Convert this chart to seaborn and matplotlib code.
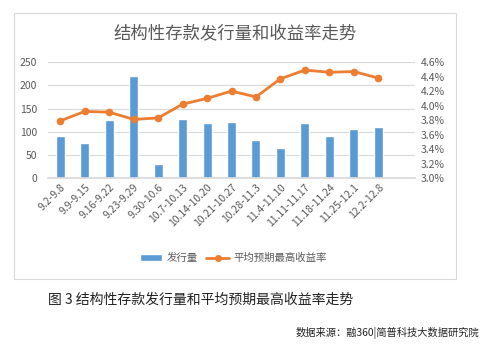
import matplotlib
matplotlib.use("Agg")
import matplotlib.pyplot as plt
import matplotlib.patches as patches
from matplotlib.lines import Line2D
from matplotlib.ticker import FuncFormatter
import seaborn as sns
import pandas as pd

# --- data ---
weeks = ["9.2-9.8", "9.9-9.15", "9.16-9.22", "9.23-9.29", "9.30-10.6",
         "10.7-10.13", "10.14-10.20", "10.21-10.27", "10.28-11.3", "11.4-11.10",
         "11.11-11.17", "11.18-11.24", "11.25-12.1", "12.2-12.8"]
issuance = [91, 76, 125, 220, 30, 127, 119, 122, 82, 66, 119, 91, 106, 111]
avg_rate = [3.79, 3.92, 3.91, 3.81, 3.83, 4.02, 4.10, 4.20, 4.12, 4.37, 4.49, 4.46, 4.47, 4.38]

BAR_C = "#5B9BD5"
LINE_C = "#ED7D31"
TXT_C = "#595959"
GRID_C = "#D9D9D9"

df = pd.DataFrame({"week": weeks, "issuance": issuance, "rate": avg_rate})

sns.set_theme(style="white")
plt.rcParams['font.family'] = ['Noto Sans CJK SC', 'DejaVu Sans']

fig = plt.figure(figsize=(5, 3.57), dpi=100)
fig.patch.set_facecolor("white")

# outer chart frame
fig.patches.append(patches.Rectangle((14 / 500, 1 - 279 / 357), 442 / 500, 266 / 357,
                                     transform=fig.transFigure, fill=False,
                                     edgecolor="#D9D9D9", linewidth=0.8))

ax = fig.add_axes([0.096, 0.501, 0.734, 0.325])
sns.barplot(data=df, x="week", y="issuance", color=BAR_C, width=0.37,
            saturation=1, ax=ax)
ax.set_ylim(0, 250)
ax.set_yticks(range(0, 251, 50))
ax.set_xlim(-0.5, 14.5)
ax.yaxis.grid(True, color=GRID_C, linewidth=0.8)
ax.set_axisbelow(True)
for s in ["top", "right", "left"]:
    ax.spines[s].set_visible(False)
ax.spines["bottom"].set_color(GRID_C)
ax.set_xlabel("")
ax.set_ylabel("")
ax.tick_params(axis="y", labelsize=7.5, colors=TXT_C, length=0, pad=8)
ax.tick_params(axis="x", labelsize=7.5, colors=TXT_C, length=0, pad=3)
plt.setp(ax.get_xticklabels(), rotation=45, ha="right", rotation_mode="anchor")

ax2 = ax.twinx()
sns.pointplot(data=df, x="week", y="rate", color=LINE_C, markers="o",
              markersize=4, linewidth=2, ax=ax2)
ax2.set_ylim(3.0, 4.6)
ax2.set_yticks([3.0, 3.2, 3.4, 3.6, 3.8, 4.0, 4.2, 4.4, 4.6])
ax2.yaxis.set_major_formatter(FuncFormatter(lambda v, p: f"{v:.1f}%"))
ax2.set_xlim(-0.5, 14.5)
ax2.set_ylabel("")
ax2.set_xlabel("")
for s in ax2.spines.values():
    s.set_visible(False)
ax2.tick_params(axis="y", labelsize=7.5, colors=TXT_C, length=0, pad=4)

fig.text(0.47, 1 - 33 / 357, "结构性存款发行量和收益率走势", ha="center", va="center",
         fontsize=12.5, color=TXT_C)

handles = [patches.Patch(facecolor=BAR_C, label="发行量"),
           Line2D([0], [0], color=LINE_C, lw=2, marker="o", markersize=4,
                  label="平均预期最高收益率")]
fig.legend(handles=handles, loc="center", bbox_to_anchor=(0.466, 1 - 258 / 357),
           ncol=2, frameon=False, fontsize=7.5, labelcolor=TXT_C,
           handlelength=2.2, handleheight=0.6, columnspacing=0.8, handletextpad=0.4)

fig.text(48 / 500, 1 - 300 / 357, "图 3 结构性存款发行量和平均预期最高收益率走势",
         ha="left", va="center", fontsize=10, color="#222222")
fig.text(479 / 500, 1 - 333 / 357, "数据来源：融360|简普科技大数据研究院",
         ha="right", va="center", fontsize=7.4, color="#222222")

fig.savefig("out.png", dpi=100, facecolor="white")
